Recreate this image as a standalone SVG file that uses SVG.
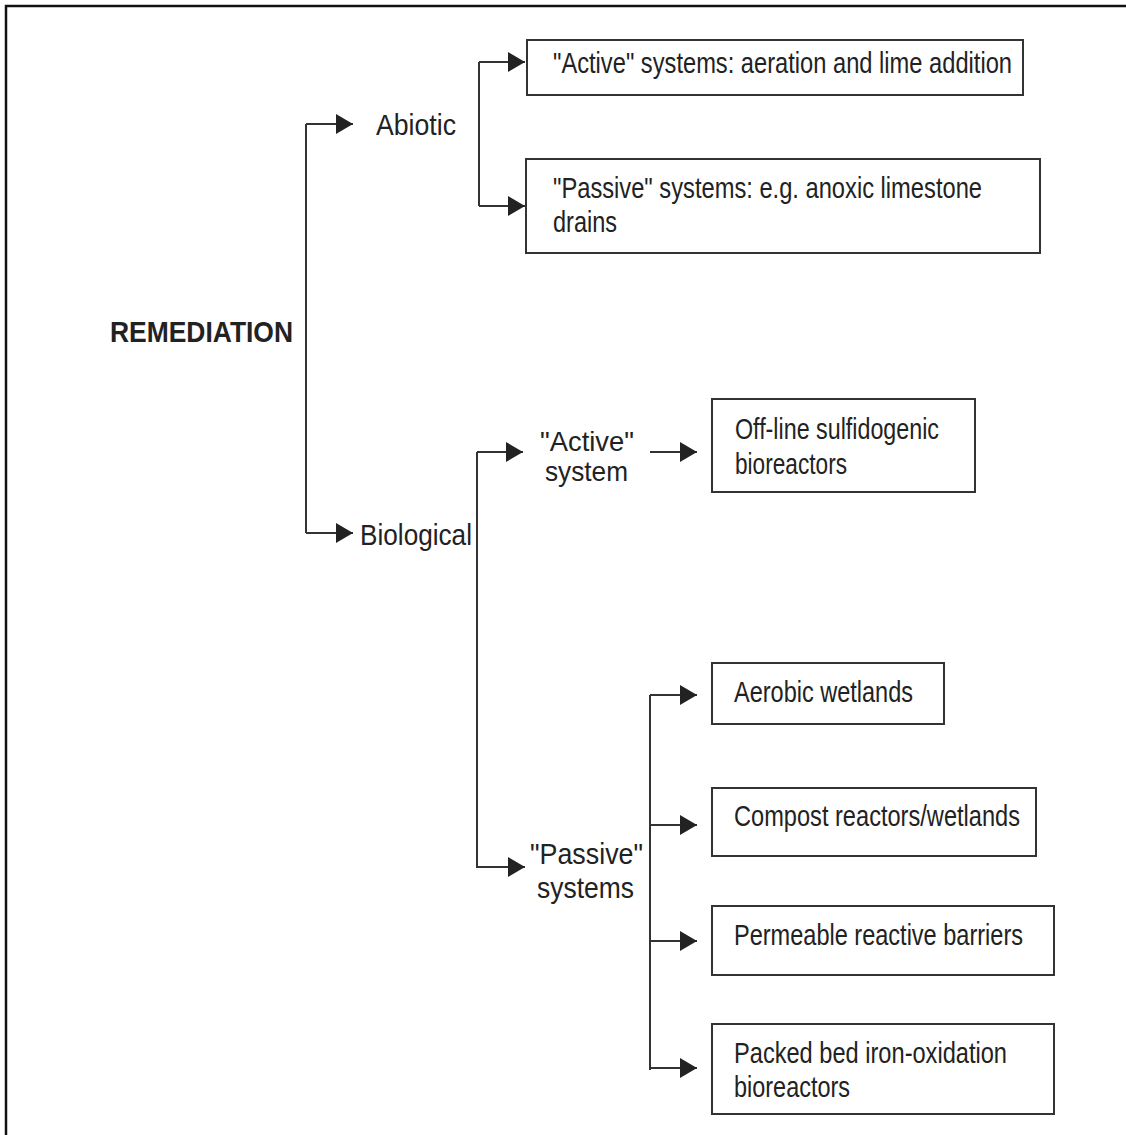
<svg xmlns="http://www.w3.org/2000/svg" width="1126" height="1135" viewBox="0 0 1126 1135">
<style>
text{font-family:"Liberation Sans",Arial,sans-serif;font-size:29px;fill:#222}
.b{font-weight:bold;font-size:30px}
.s{font-size:28px}
.box{fill:#fff;stroke:#333;stroke-width:2}
.c{fill:none;stroke:#333;stroke-width:2}
</style>
<defs>
<marker id="ah" markerUnits="userSpaceOnUse" markerWidth="18" markerHeight="20" refX="17" refY="10" orient="auto">
<path d="M0,0 L17,10 L0,20 z" fill="#222"/>
</marker>
</defs>
<rect width="1126" height="1135" fill="#fff"/>
<path d="M6,1140 V6 H1130" fill="none" stroke="#111" stroke-width="2.5"/>
<g id="connectors">
<path class="c" d="M306,124 V533"/>
<path class="c" d="M306,124 H353" marker-end="url(#ah)"/>
<path class="c" d="M306,533 H353" marker-end="url(#ah)"/>
<path class="c" d="M479,62 V206"/>
<path class="c" d="M479,62 H525" marker-end="url(#ah)"/>
<path class="c" d="M479,206 H525" marker-end="url(#ah)"/>
<path class="c" d="M477,452 V868"/>
<path class="c" d="M477,452 H523" marker-end="url(#ah)"/>
<path class="c" d="M477,867 H525" marker-end="url(#ah)"/>
<path class="c" d="M650,452 H697" marker-end="url(#ah)"/>
<path class="c" d="M650,695 V1070"/>
<path class="c" d="M650,695 H697" marker-end="url(#ah)"/>
<path class="c" d="M650,825 H697" marker-end="url(#ah)"/>
<path class="c" d="M650,941 H697" marker-end="url(#ah)"/>
<path class="c" d="M650,1068 H697" marker-end="url(#ah)"/>
</g>
<g id="remediation"><text class="b" x="110" y="342" textLength="183" lengthAdjust="spacingAndGlyphs">REMEDIATION</text></g>
<g id="abiotic"><text x="376" y="135" textLength="80" lengthAdjust="spacingAndGlyphs">Abiotic</text></g>
<g id="biological"><text x="360" y="545" textLength="112" lengthAdjust="spacingAndGlyphs">Biological</text></g>
<g id="abiotic-active"><rect class="box" x="527" y="40" width="496" height="55"/>
<text x="553" y="73" textLength="459" lengthAdjust="spacingAndGlyphs">"Active" systems: aeration and lime addition</text></g>
<g id="abiotic-passive"><rect class="box" x="526" y="159" width="514" height="94"/>
<text x="553" y="198" textLength="429" lengthAdjust="spacingAndGlyphs">"Passive" systems: e.g. anoxic limestone</text>
<text x="553" y="232" textLength="64" lengthAdjust="spacingAndGlyphs">drains</text></g>
<g id="bio-active"><text class="s" x="540" y="451" textLength="94" lengthAdjust="spacingAndGlyphs">"Active"</text>
<text class="s" x="545" y="481" textLength="83" lengthAdjust="spacingAndGlyphs">system</text></g>
<g id="bio-passive"><text x="530" y="864" textLength="113" lengthAdjust="spacingAndGlyphs">"Passive"</text>
<text x="537" y="898" textLength="97" lengthAdjust="spacingAndGlyphs">systems</text></g>
<g id="offline"><rect class="box" x="712" y="399" width="263" height="93"/>
<text x="735" y="439" textLength="204" lengthAdjust="spacingAndGlyphs">Off-line sulfidogenic</text>
<text x="735" y="474" textLength="112" lengthAdjust="spacingAndGlyphs">bioreactors</text></g>
<g id="aerobic"><rect class="box" x="712" y="663" width="232" height="61"/>
<text x="734" y="702" textLength="179" lengthAdjust="spacingAndGlyphs">Aerobic wetlands</text></g>
<g id="compost"><rect class="box" x="712" y="788" width="324" height="68"/>
<text x="734" y="826" textLength="286" lengthAdjust="spacingAndGlyphs">Compost reactors/wetlands</text></g>
<g id="permeable"><rect class="box" x="712" y="906" width="342" height="69"/>
<text x="734" y="945" textLength="289" lengthAdjust="spacingAndGlyphs">Permeable reactive barriers</text></g>
<g id="packed"><rect class="box" x="712" y="1024" width="342" height="90"/>
<text x="734" y="1063" textLength="273" lengthAdjust="spacingAndGlyphs">Packed bed iron-oxidation</text>
<text x="734" y="1097" textLength="116" lengthAdjust="spacingAndGlyphs">bioreactors</text></g>
</svg>
